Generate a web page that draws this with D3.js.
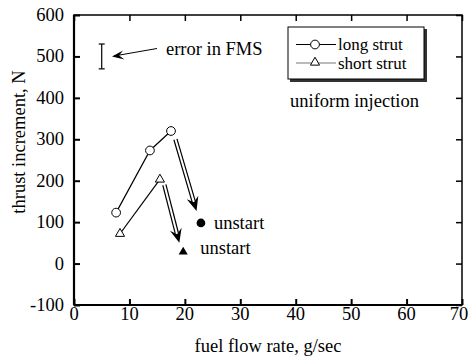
<!DOCTYPE html>
<html>
<head>
<meta charset="utf-8">
<script src="https://cdn.jsdelivr.net/npm/d3@7"></script>
<style>
  html, body { margin: 0; padding: 0; background: #fff; }
  svg { display: block; }
  text { font-family: "Liberation Serif", "Times New Roman", serif; fill: #000; }
</style>
</head>
<body>
<svg id="chart" width="469" height="356"></svg>
<script>
// Thrust increment vs. fuel flow rate
const longStrutFlow   = [7.6, 13.7, 17.5];
const longStrutThrust = [123, 273, 320];
const shortStrutFlow   = [8.3, 15.5];
const shortStrutThrust = [72, 203];
const unstartLong  = { flow: 22.9, thrust: 98 };
const unstartShort = { flow: 19.7, thrust: 28 };
// arrows from the last stable point toward the unstart point
const arrowLong  = { from: [18.3, 300], to: [22.1, 127] };
const arrowShort = { from: [16.3, 190], to: [19.0, 50] };
// FMS error bar
const errorBar = { flow: 5.0, low: 470, high: 530 };
const xTicks = [0, 10, 20, 30, 40, 50, 60, 70];
const yTicks = [-100, 0, 100, 200, 300, 400, 500, 600];

const svg = d3.select("#chart");
const m = { left: 74, right: 7, top: 15, bottom: 51 };
const W = 469, H = 356;
const x = d3.scaleLinear().domain([0, 70]).range([m.left, W - m.right]);
const y = d3.scaleLinear().domain([-100, 600]).range([H - m.bottom, m.top]);
const fs = 18.5;

// frame ticks (inward) on all four sides
const tl = 6;
svg.append("g").attr("transform", `translate(0,${y(-100)})`)
  .call(d3.axisBottom(x).tickValues(xTicks).tickSize(-tl).tickFormat(""))
  .call(g => g.select(".domain").remove())
  .call(g => g.selectAll("line").attr("stroke-width", 2));
svg.append("g").attr("transform", `translate(0,${y(600)})`)
  .call(d3.axisTop(x).tickValues(xTicks).tickSize(-tl).tickFormat(""))
  .call(g => g.select(".domain").remove())
  .call(g => g.selectAll("line").attr("stroke-width", 1.5));
svg.append("g").attr("transform", `translate(${x(0)},0)`)
  .call(d3.axisLeft(y).tickValues(yTicks).tickSize(-tl).tickFormat(""))
  .call(g => g.select(".domain").remove())
  .call(g => g.selectAll("line").attr("stroke-width", 2));
svg.append("g").attr("transform", `translate(${x(70)},0)`)
  .call(d3.axisRight(y).tickValues(yTicks).tickSize(-tl).tickFormat(""))
  .call(g => g.select(".domain").remove())
  .call(g => g.selectAll("line").attr("stroke-width", 1.5));

// frame
svg.append("rect")
  .attr("x", x(0)).attr("y", y(600))
  .attr("width", x(70) - x(0)).attr("height", y(-100) - y(600))
  .attr("fill", "none").attr("stroke", "#000").attr("stroke-width", 1.5);
svg.append("line").attr("x1", x(0)).attr("x2", x(0)).attr("y1", y(600)).attr("y2", y(-100))
  .attr("stroke", "#000").attr("stroke-width", 2.2);
svg.append("line").attr("x1", x(0)).attr("x2", x(70)).attr("y1", y(-100)).attr("y2", y(-100))
  .attr("stroke", "#000").attr("stroke-width", 2.2);

// tick labels (last one pulled in so it stays inside the page)
svg.append("g").selectAll("text").data(xTicks).join("text")
  .attr("x", d => Math.min(x(d), W - 10)).attr("y", y(-100) + 15)
  .attr("text-anchor", "middle").attr("font-size", fs).text(d => d);
svg.append("g").selectAll("text").data(yTicks).join("text")
  .attr("x", x(0) - 10).attr("y", d => y(d) + 6)
  .attr("text-anchor", "end").attr("font-size", fs).text(d => d);

// axis titles
svg.append("text").attr("x", (x(0) + x(70)) / 2).attr("y", 352)
  .attr("text-anchor", "middle").attr("font-size", fs).text("fuel flow rate, g/sec");
svg.append("text").attr("transform", `translate(25,142) rotate(-90)`)
  .attr("text-anchor", "middle").attr("font-size", fs).text("thrust increment, N");

// series lines
const line = d3.line().x(d => x(d[0])).y(d => y(d[1]));
const longPts = longStrutFlow.map((f, i) => [f, longStrutThrust[i]]);
const shortPts = shortStrutFlow.map((f, i) => [f, shortStrutThrust[i]]);
svg.append("path").attr("d", line(longPts)).attr("fill", "none")
  .attr("stroke", "#000").attr("stroke-width", 1.2);
svg.append("path").attr("d", line(shortPts)).attr("fill", "none")
  .attr("stroke", "#000").attr("stroke-width", 1.2);

// markers
const circ = d3.symbol().type(d3.symbolCircle).size(60);
const tri = d3.symbol().type(d3.symbolTriangle).size(36);
svg.append("g").selectAll("path").data(longPts).join("path")
  .attr("d", circ).attr("transform", d => `translate(${x(d[0])},${y(d[1])})`)
  .attr("fill", "#fff").attr("stroke", "#000").attr("stroke-width", 1);
svg.append("g").selectAll("path").data(shortPts).join("path")
  .attr("d", tri).attr("transform", d => `translate(${x(d[0])},${y(d[1])})`)
  .attr("fill", "#fff").attr("stroke", "#000").attr("stroke-width", 1);
svg.append("path").attr("d", circ)
  .attr("transform", `translate(${x(unstartLong.flow)},${y(unstartLong.thrust)})`)
  .attr("fill", "#000");
svg.append("path").attr("d", d3.symbol().type(d3.symbolTriangle).size(36))
  .attr("transform", `translate(${x(unstartShort.flow)},${y(unstartShort.thrust)})`)
  .attr("fill", "#000");

// double-shafted arrows
function doubleArrow(a) {
  const x1 = x(a.from[0]), y1 = y(a.from[1]), x2 = x(a.to[0]), y2 = y(a.to[1]);
  const dx = x2 - x1, dy = y2 - y1, L = Math.hypot(dx, dy);
  const ux = dx / L, uy = dy / L, nx = -uy, ny = ux;
  const headLen = 14, headW = 6, gap = 1.6;
  const bx = x2 - ux * headLen, by = y2 - uy * headLen;
  const g = svg.append("g");
  [-gap, gap].forEach(o => {
    g.append("line")
      .attr("x1", x1 + nx * o).attr("y1", y1 + ny * o)
      .attr("x2", bx + ux * 4 + nx * o).attr("y2", by + uy * 4 + ny * o)
      .attr("stroke", "#000").attr("stroke-width", 1.2);
  });
  const notch = [bx + ux * 5, by + uy * 5];
  g.append("path")
    .attr("d", `M${x2},${y2} L${bx + nx * headW},${by + ny * headW} L${notch[0]},${notch[1]} L${bx - nx * headW},${by - ny * headW} Z`)
    .attr("fill", "#000");
}
doubleArrow(arrowLong);
doubleArrow(arrowShort);

// unstart labels
svg.append("text").attr("x", x(unstartLong.flow) + 13).attr("y", y(unstartLong.thrust) + 6)
  .attr("font-size", fs).text("unstart");
svg.append("text").attr("x", x(unstartShort.flow) + 17).attr("y", y(unstartShort.thrust) + 2)
  .attr("font-size", fs).text("unstart");

// FMS error bar
const ex = x(errorBar.flow);
svg.append("line").attr("x1", ex).attr("x2", ex).attr("y1", y(errorBar.low)).attr("y2", y(errorBar.high))
  .attr("stroke", "#000").attr("stroke-width", 1.2);
[errorBar.low, errorBar.high].forEach(v => svg.append("line")
  .attr("x1", ex - 3).attr("x2", ex + 3).attr("y1", y(v)).attr("y2", y(v))
  .attr("stroke", "#000").attr("stroke-width", 1.2));

// pointer to the error bar
svg.append("line").attr("x1", 157).attr("y1", 48.5).attr("x2", 114).attr("y2", 56)
  .attr("stroke", "#000").attr("stroke-width", 1);
svg.append("path").attr("d", "M112,56.5 L123,50.5 L119,55.5 L124.5,59.5 Z").attr("fill", "#000");
svg.append("text").attr("x", 166).attr("y", 55).attr("font-size", fs).text("error in FMS");

// legend
const lfs = 17;
const lg = svg.append("g");
lg.append("rect").attr("x", 290).attr("y", 29).attr("width", 137).attr("height", 53).attr("fill", "#333");
lg.append("rect").attr("x", 288).attr("y", 27).attr("width", 136).attr("height", 52)
  .attr("fill", "#fff").attr("stroke", "#000").attr("stroke-width", 1);
lg.append("line").attr("x1", 296).attr("x2", 336).attr("y1", 44.5).attr("y2", 44.5)
  .attr("stroke", "#000").attr("stroke-width", 1.2);
lg.append("path").attr("d", circ).attr("transform", "translate(315,44.5)")
  .attr("fill", "#fff").attr("stroke", "#000");
lg.append("text").attr("x", 338).attr("y", 50).attr("font-size", lfs).text("long strut");
lg.append("line").attr("x1", 296).attr("x2", 336).attr("y1", 63).attr("y2", 63)
  .attr("stroke", "#777").attr("stroke-width", 1.2);
lg.append("path").attr("d", tri).attr("transform", "translate(315,62.5)")
  .attr("fill", "#fff").attr("stroke", "#000");
lg.append("text").attr("x", 338).attr("y", 68.5).attr("font-size", lfs).text("short strut");

svg.append("text").attr("x", 290).attr("y", 107).attr("font-size", fs).text("uniform injection");
</script>
</body>
</html>
